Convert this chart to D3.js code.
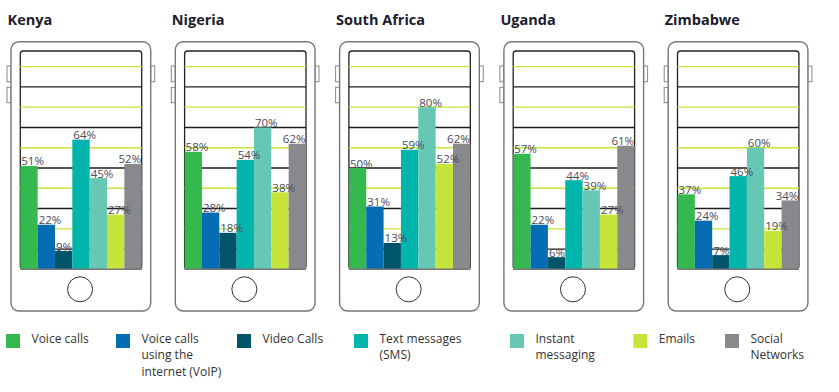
<!DOCTYPE html>
<html>
<head>
<meta charset="utf-8">
<script src="https://cdn.jsdelivr.net/npm/d3@7"></script>
<style>
  body { margin: 0; background: #fff; }
  svg { display: block; font-family: "Open Sans", sans-serif; }
</style>
</head>
<body>
<div id="chart"></div>
<script>

// data
var countries = ["Kenya", "Nigeria", "South Africa", "Uganda", "Zimbabwe"];
var categories = ["Voice calls", "Voice calls using the internet (VoIP)", "Video Calls",
  "Text messages (SMS)", "Instant messaging", "Emails", "Social Networks"];
var legendLines = [["Voice calls"], ["Voice calls", "using the", "internet (VoIP)"], ["Video Calls"],
  ["Text messages", "(SMS)"], ["Instant", "messaging"], ["Emails"], ["Social", "Networks"]];
var kenya = [51, 22, 9, 64, 45, 27, 52];
var nigeria = [58, 28, 18, 54, 70, 38, 62];
var southAfrica = [50, 31, 13, 59, 80, 52, 62];
var uganda = [57, 22, 6, 44, 39, 27, 61];
var zimbabwe = [37, 24, 7, 46, 60, 19, 34];
var gridTicks = [10, 20, 30, 40, 50, 60, 70, 80, 90, 100];

var values = [kenya, nigeria, southAfrica, uganda, zimbabwe];
var colors = ["#35b84e", "#066db2", "#00546a", "#00b5ac", "#66c8b4", "#c5e53a", "#88898c"];

var width = 839, height = 392;

var svg = d3.select("#chart")
  .append("svg")
  .attr("width", width)
  .attr("height", height);

// one phone per country
var phoneX = d3.scaleBand()
  .domain(countries)
  .range([11, 11 + 164.3 * countries.length]);

var phoneW = 139.7, phoneTop = 41.7, phoneBottom = 311;
var scrL = 9.3, scrR = 130.7, scrTop = 51, scrBottom = 269.3;

var x = d3.scaleBand()
  .domain(categories)
  .range([scrL, scrR])
  .padding(0);

var y = d3.scaleLinear()
  .domain([0, 100])
  .range([scrBottom, 66.7]);

var color = d3.scaleOrdinal()
  .domain(categories)
  .range(colors);

countries.forEach(function (c, i) {
  var g = svg.append("g")
    .attr("transform", "translate(" + phoneX(c) + ",0)");

  // title
  g.append("text")
    .attr("x", -3.5)
    .attr("y", 25)
    .style("font-size", "14.5px")
    .style("font-weight", "bold")
    .attr("fill", "#1c1c2c")
    .text(c);

  // side buttons
  [[66, 15.7], [87.3, 15.4]].forEach(function (b) {
    g.append("rect")
      .attr("x", -4).attr("y", b[0])
      .attr("width", 4).attr("height", b[1])
      .attr("fill", "#fff").attr("stroke", "#888").attr("stroke-width", 1);
  });
  g.append("rect")
    .attr("x", phoneW).attr("y", 66)
    .attr("width", 4).attr("height", 15.7)
    .attr("fill", "#fff").attr("stroke", "#888").attr("stroke-width", 1);

  // phone body
  g.append("rect")
    .attr("x", 0).attr("y", phoneTop)
    .attr("width", phoneW).attr("height", phoneBottom - phoneTop)
    .attr("rx", 8)
    .attr("fill", "#fff")
    .attr("stroke", "#777")
    .attr("stroke-width", 1.4);

  // screen
  g.append("rect")
    .attr("x", scrL).attr("y", scrTop)
    .attr("width", scrR - scrL).attr("height", scrBottom - scrTop)
    .attr("rx", 3)
    .attr("fill", "#fff")
    .attr("stroke", "#222")
    .attr("stroke-width", 1.3);

  // grid lines
  g.selectAll(".grid")
    .data(gridTicks)
    .enter()
    .append("line")
    .attr("x1", scrL).attr("x2", scrR)
    .attr("y1", function (d) { return y(d); })
    .attr("y2", function (d) { return y(d); })
    .attr("stroke", function (d) { return d % 20 === 0 ? "#c5e53a" : "#1e1e1e"; })
    .attr("stroke-width", 1.3);

  // bars
  g.selectAll(".bar")
    .data(values[i])
    .enter()
    .append("rect")
    .attr("x", function (d, j) { return x(categories[j]); })
    .attr("y", function (d) { return y(d); })
    .attr("width", x.bandwidth())
    .attr("height", function (d) { return y(0) - y(d); })
    .attr("fill", function (d, j) { return color(categories[j]); });

  // labels
  g.selectAll(".lbl")
    .data(values[i])
    .enter()
    .append("text")
    .style("font-size", "11.5px")
    .attr("fill", "#4a4a58")
    .attr("y", function (d) { return y(d) - 0.5; })
    .text(function (d) { return d + "%"; })
    .attr("x", function (d, j) {
      var w = this.getComputedTextLength();
      return Math.min(x(categories[j]) + 1, scrR - w - 0.5);
    });

  // screen bottom edge
  g.append("line")
    .attr("x1", scrL).attr("x2", scrR)
    .attr("y1", scrBottom).attr("y2", scrBottom)
    .attr("stroke", "#777").attr("stroke-width", 1.5);

  // home button
  g.append("circle")
    .attr("cx", phoneW / 2 - 0.8)
    .attr("cy", 289.3)
    .attr("r", 12.5)
    .attr("fill", "#fff")
    .attr("stroke", "#333")
    .attr("stroke-width", 1);
});

// legend
var legendX = [6, 116, 237, 354, 510, 633.3, 725];
var legend = svg.append("g");
categories.forEach(function (c, i) {
  legend.append("rect")
    .attr("x", legendX[i]).attr("y", 334)
    .attr("width", 14).attr("height", 14)
    .attr("fill", color(c));
  var t = legend.append("text")
    .attr("x", legendX[i] + 25.5)
    .attr("y", 342.7)
    .style("font-size", "12px")
    .attr("fill", "#333");
  legendLines[i].forEach(function (l, k) {
    t.append("tspan")
      .attr("x", legendX[i] + 25.5)
      .attr("dy", k === 0 ? 0 : 16.7)
      .text(l);
  });
});

</script>
</body>
</html>
